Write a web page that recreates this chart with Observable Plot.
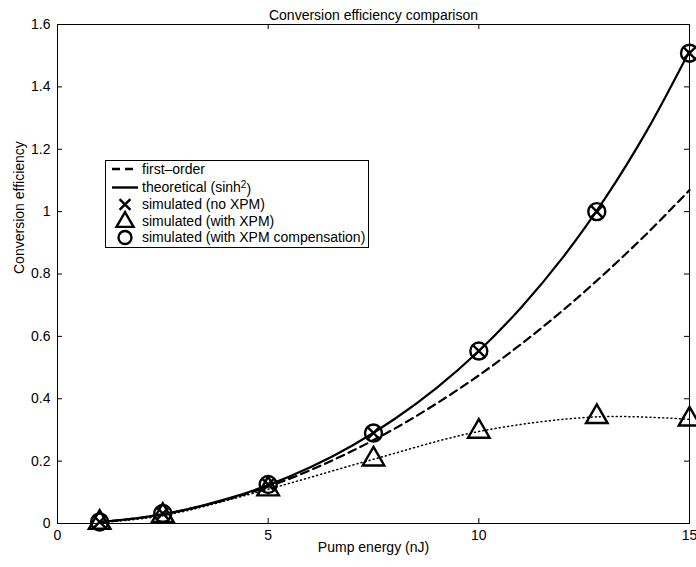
<!DOCTYPE html>
<html>
<head>
<meta charset="utf-8">
<script src="https://cdn.jsdelivr.net/npm/d3@7"></script>
<script src="https://cdn.jsdelivr.net/npm/@observablehq/plot@0.6"></script>
<style>
  html, body { margin: 0; padding: 0; background: #fff; }
  #chart { position: relative; width: 696px; height: 567px; }
</style>
</head>
<body>
<div id="chart"></div>
<script>
// ---- data ----
const titleText = "Conversion efficiency comparison";
const xLabel = "Pump energy (nJ)";
const yLabel = "Conversion efficiency";

const xTicks = [0, 5, 10, 15];
const xTickLabels = ["0", "5", "10", "15"];
const yTicks = [0, 0.2, 0.4, 0.6, 0.8, 1.0, 1.2, 1.4, 1.6];
const yTickLabels = ["0", "0.2", "0.4", "0.6", "0.8", "1", "1.2", "1.4", "1.6"];

// continuous curves
const curveX = [1, 2, 3, 4, 5, 6, 7, 8, 9, 10, 11, 12, 13, 14, 15];
const firstOrder = [0.005, 0.019, 0.043, 0.076, 0.118, 0.171, 0.233, 0.304, 0.385, 0.475, 0.575, 0.684, 0.803, 0.931, 1.069];
const theoretical = [0.005, 0.019, 0.043, 0.078, 0.123, 0.180, 0.250, 0.335, 0.435, 0.553, 0.692, 0.854, 1.043, 1.262, 1.515];

// simulated points
const simX = [1, 2.5, 5, 7.5, 10, 12.8, 15];
const simNoXPM = [0.005, 0.032, 0.125, 0.29, 0.553, 1.0, 1.508];
const simWithXPM = [0.003, 0.025, 0.11, 0.206, 0.295, 0.342, 0.334];
const simComp = [0.005, 0.032, 0.125, 0.29, 0.553, 1.0, 1.508];

const legendLabels = ["first\u2013order", "theoretical (sinh", "simulated (no XPM)", "simulated (with XPM)", "simulated (with XPM compensation)"];

// ---- build tables ----
const lineFirst = curveX.map((x, i) => ({x, y: firstOrder[i]}));
const lineTheo = curveX.map((x, i) => ({x, y: theoretical[i]}));
const ptsNo = simX.map((x, i) => ({x, y: simNoXPM[i]}));
const ptsWith = simX.map((x, i) => ({x, y: simWithXPM[i]}));
const ptsComp = simX.map((x, i) => ({x, y: simComp[i]}));

const W = 696, H = 567;
const mL = 57, mR = 7, mT = 24, mB = 44;
const plotW = W - mL - mR, plotH = H - mT - mB;
const tickLen = 5;
const font = "'Liberation Sans', Arial, Helvetica, sans-serif";

const innerX = xTicks.filter(d => d > 0 && d < 15);
const innerY = yTicks.filter(d => d > 0 && d < 1.6);

const svg = Plot.plot({
  width: W,
  height: H,
  marginLeft: mL,
  marginRight: mR,
  marginTop: mT,
  marginBottom: mB,
  style: {fontFamily: font, fontSize: "14px", background: "#fff", color: "#000", overflow: "visible"},
  x: {domain: [0, 15]},
  y: {domain: [0, 1.6]},
  marks: [
    // curves
    Plot.line(ptsWith, {x: "x", y: "y", curve: "catmull-rom", stroke: "#000", strokeWidth: 1.5, strokeDasharray: "1,3.2"}),
    Plot.line(lineFirst, {x: "x", y: "y", curve: "catmull-rom", stroke: "#000", strokeWidth: 2.2, strokeDasharray: "8,5"}),
    Plot.line(lineTheo, {x: "x", y: "y", curve: "catmull-rom", stroke: "#000", strokeWidth: 2.2}),
    // frame and inward ticks
    Plot.frame({stroke: "#000", strokeWidth: 1}),
    Plot.tickX(innerX, {x: d => d, insetTop: plotH - tickLen, stroke: "#000", strokeWidth: 1}),
    Plot.tickX(innerX, {x: d => d, insetBottom: plotH - tickLen, stroke: "#000", strokeWidth: 1}),
    Plot.tickY(innerY, {y: d => d, insetRight: plotW - tickLen, stroke: "#000", strokeWidth: 1}),
    Plot.tickY(innerY, {y: d => d, insetLeft: plotW - tickLen, stroke: "#000", strokeWidth: 1}),
    // axes labels
    Plot.axisX({ticks: xTicks, tickSize: 0, tickPadding: 7, tickFormat: d => xTickLabels[xTicks.indexOf(d)], label: null, fontSize: 14}),
    Plot.axisY({ticks: yTicks, tickSize: 0, tickPadding: 7, tickFormat: d => yTickLabels[yTicks.findIndex(t => Math.abs(t - d) < 1e-9)], label: null, fontSize: 14}),
    // markers
    Plot.dot(ptsWith, {x: "x", y: "y", symbol: "triangle", r: 8, stroke: "#000", strokeWidth: 2.4, fill: "none"}),
    Plot.dot(ptsComp, {x: "x", y: "y", symbol: "circle", r: 8.5, stroke: "#000", strokeWidth: 2.4, fill: "none"}),
    Plot.dot(ptsNo, {x: "x", y: "y", symbol: "times", r: 5, stroke: "#000", strokeWidth: 2.4, fill: "none"}),
    // titles
    Plot.text([titleText], {text: d => d, frameAnchor: "top", dy: -14, fontSize: 14, fill: "#000"}),
    Plot.text([xLabel], {text: d => d, frameAnchor: "bottom", dy: 28, fontSize: 14, fill: "#000"}),
    Plot.text([yLabel], {text: d => d, frameAnchor: "left", dx: -38, rotate: -90, fontSize: 14, fill: "#000"})
  ]
});

document.getElementById("chart").appendChild(svg);

// ---- legend (drawn into the plot's SVG) ----
const lg = d3.select(svg).append("g").attr("font-family", font).attr("font-size", 14).attr("fill", "#000").attr("text-anchor", "start");
const box = {x: 105, y: 160, w: 263, h: 87};
lg.append("rect").attr("x", box.x + 0.5).attr("y", box.y + 0.5).attr("width", box.w).attr("height", box.h)
  .attr("fill", "#fff").attr("stroke", "#000").attr("stroke-width", 1);
const rowY = [169, 187.5, 204.5, 221, 237.5];
const sx0 = 112, sx1 = 138, mx = 125, tx = 142;
// rows
lg.append("line").attr("x1", sx0).attr("x2", sx1).attr("y1", rowY[0]).attr("y2", rowY[0])
  .attr("stroke", "#000").attr("stroke-width", 2.4).attr("stroke-dasharray", "8,5");
lg.append("line").attr("x1", sx0).attr("x2", sx1).attr("y1", rowY[1]).attr("y2", rowY[1])
  .attr("stroke", "#000").attr("stroke-width", 2.4);
lg.append("path").attr("d", d3.symbol(d3.symbolTimes, Math.PI * 25)()).attr("transform", `translate(${mx},${rowY[2]})`)
  .attr("fill", "none").attr("stroke", "#000").attr("stroke-width", 2.4);
lg.append("path").attr("d", d3.symbol(d3.symbolTriangle, Math.PI * 40)()).attr("transform", `translate(${mx},${rowY[3] + 1})`)
  .attr("fill", "none").attr("stroke", "#000").attr("stroke-width", 2.4);
lg.append("circle").attr("cx", mx).attr("cy", rowY[4]).attr("r", 6.5)
  .attr("fill", "none").attr("stroke", "#000").attr("stroke-width", 2.4);
legendLabels.forEach((t, i) => {
  const txt = lg.append("text").attr("x", tx).attr("y", rowY[i]).attr("dy", "0.35em").attr("text-anchor", "start").text(t);
  if (i === 1) {
    txt.append("tspan").attr("dy", "-0.4em").attr("font-size", 10).text("2");
    txt.append("tspan").attr("dy", "0.4em").text(")");
  }
});
</script>
</body>
</html>
